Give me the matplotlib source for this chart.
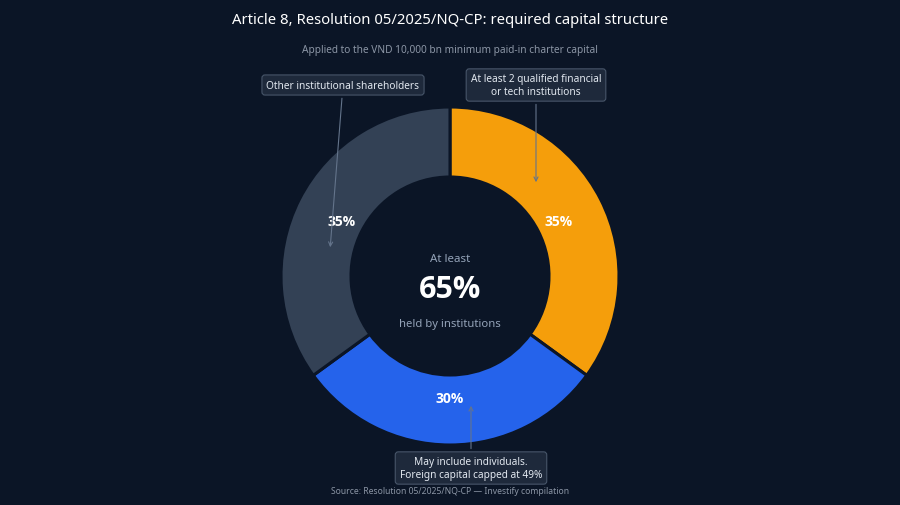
import matplotlib.pyplot as plt
import numpy as np

# Capital structure shares (percent), clockwise from 12 o'clock
groups = ['At least 2 qualified financial\nor tech institutions',
          'May include individuals.\nForeign capital capped at 49%',
          'Other institutional shareholders']
shares = [35, 30, 35]
share_labels = ['35%', '30%', '35%']
colors = ['#f59e0b', '#2563eb', '#334155']

bg = '#0b1526'
plt.rcParams['font.family'] = ['Noto Sans', 'DejaVu Sans']
bold_fam = ['Open Sans', 'DejaVu Sans']

fig = plt.figure(figsize=(9, 5.06), dpi=100, facecolor=bg)
ax = fig.add_axes([0, 0, 1, 1])
ax.set_facecolor(bg)

H = 506
cx, cy = 450, H - 277
R = 169

wedges, _ = ax.pie(shares, colors=colors, startangle=90, counterclock=False,
                   radius=R, center=(cx, cy),
                   wedgeprops=dict(width=70, edgecolor=bg, linewidth=2.2))
ax.set_xlim(0, 900)
ax.set_ylim(0, H)
ax.set_aspect('equal')
ax.axis('off')

# percentage labels inside the ring
for w, lab in zip(wedges, share_labels):
    mid = np.deg2rad((w.theta1 + w.theta2) / 2)
    ax.text(cx + 122 * np.cos(mid), cy + 122 * np.sin(mid), lab,
            ha='center', va='center', color='white', fontsize=10,
            fontweight='bold', family=bold_fam)

# centre text
ax.text(cx, H - 260, 'At least', ha='center', va='center', color='#94a3b8', fontsize=8.3)
ax.text(cx, H - 290, '65%', ha='center', va='center', color='white', fontsize=22,
        fontweight='bold', family=bold_fam)
ax.text(cx, H - 324, 'held by institutions', ha='center', va='center', color='#94a3b8', fontsize=8.1)

box = dict(boxstyle='round,pad=0.45,rounding_size=0.3', fc='#1e293b', ec='#475569', lw=0.8)
arrow = dict(arrowstyle='->', color='#64748b', lw=0.8)

ax.annotate(groups[0], xy=(536, H - 186), xytext=(536, H - 86), ha='center', va='center',
            fontsize=7.3, color='#e2e8f0', bbox=box, arrowprops=arrow, linespacing=1.15)
ax.annotate(groups[1], xy=(471, H - 404), xytext=(471, H - 469), ha='center', va='center',
            fontsize=7.3, color='#e2e8f0', bbox=box, arrowprops=arrow, linespacing=1.15)
ax.annotate(groups[2], xy=(330, H - 251), xytext=(343, H - 86), ha='center', va='center',
            fontsize=7.3, color='#e2e8f0', bbox=box, arrowprops=arrow)

ax.text(cx, H - 20, 'Article 8, Resolution 05/2025/NQ-CP: required capital structure',
        ha='center', va='center', color='white', fontsize=10.7)
ax.text(cx, H - 50, 'Applied to the VND 10,000 bn minimum paid-in charter capital',
        ha='center', va='center', color='#8b95a5', fontsize=7.3)
ax.text(cx, H - 492, 'Source: Resolution 05/2025/NQ-CP \u2014 Investify compilation',
        ha='center', va='center', color='#8b95a5', fontsize=6.2)

plt.savefig('out.png', dpi=100, facecolor=bg)
